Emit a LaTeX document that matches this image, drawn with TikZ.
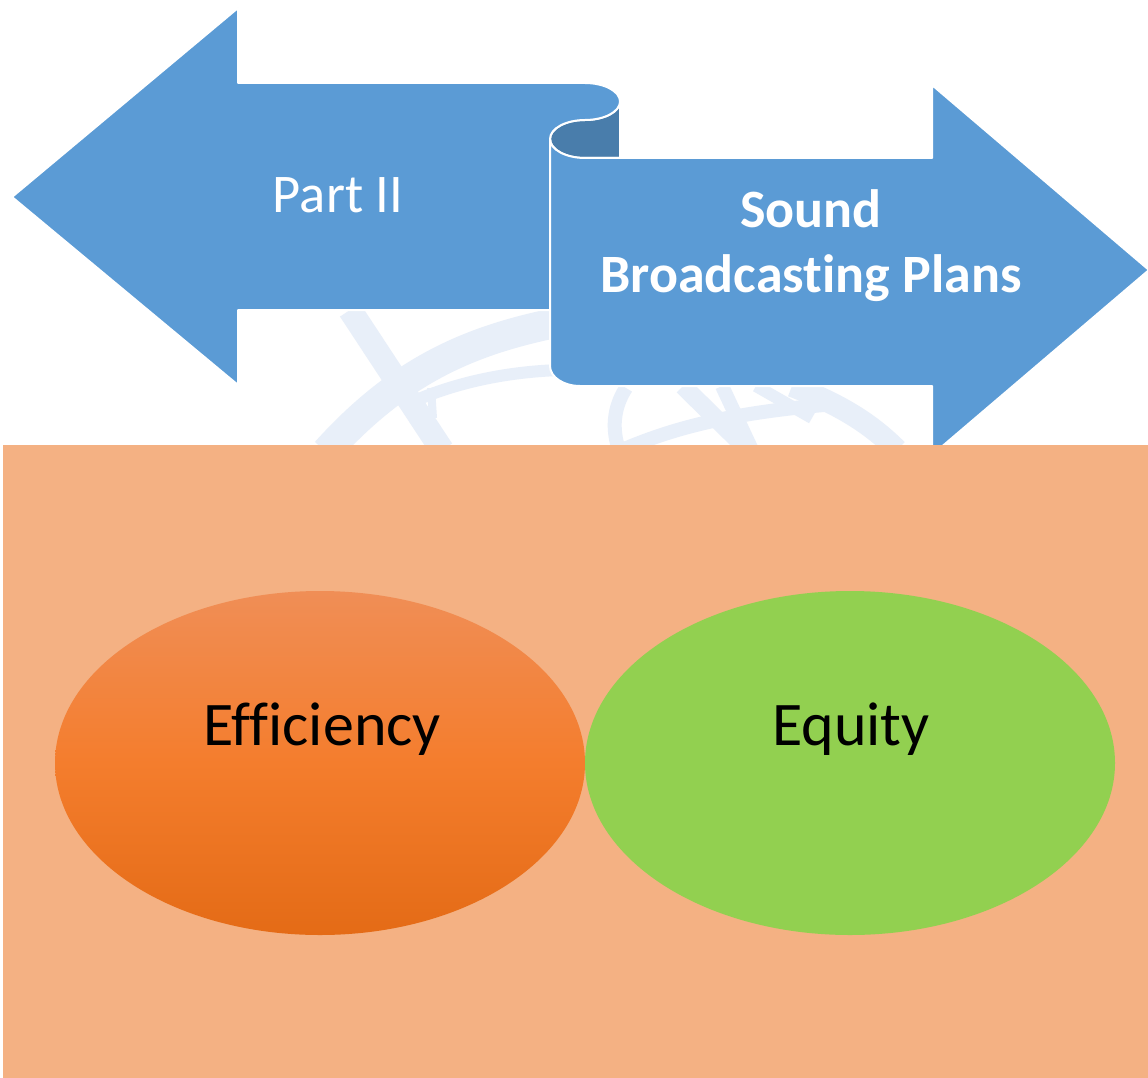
\documentclass[tikz,border=0pt]{standalone}
\usepackage{fontspec}
\setmainfont{Carlito}[Ligatures=NoCommon]
\usetikzlibrary{shapes.geometric}
\definecolor{arrowblue}{HTML}{5B9BD5}
\definecolor{curldark}{HTML}{497DAB}
\definecolor{panel}{HTML}{F4B183}
\definecolor{wmark}{HTML}{E8EFF9}
\definecolor{effTop}{HTML}{F08E56}
\definecolor{effMid}{HTML}{F47D2D}
\definecolor{effBot}{HTML}{E46B16}
\definecolor{equitygreen}{HTML}{92D050}
\begin{document}
\begin{tikzpicture}[x=1pt,y=-1pt,
  shapeblue/.style={fill=arrowblue, draw=white, line width=2pt, line join=round},
  wm/.style={draw=wmark, line cap=butt},
  whitelbl/.style={inner sep=0pt, text=white},
  blacklbl/.style={anchor=base, inner sep=0pt, text=black, font=\fontsize{62}{70}\selectfont},
  blob/.style={ellipse, inner sep=0pt, minimum width=530pt, minimum height=344pt}]
\useasboundingbox (0,0) rectangle (1148,1078);
\fill[white] (0,0) rectangle (1148,1078);
% faint watermark
\begin{scope}
\clip (0,300) rectangle (1148,445);
\draw[wm, line width=24pt] (350,310) -- (442,450);
\draw[wm, line width=30pt] (326,452) .. controls (400,370) and (470,340) .. (560,322);
\draw[wm, line width=12pt] (412,402) .. controls (450,385) and (500,372) .. (560,370);
\draw[wm, line width=8pt] (431,388) -- (433,418);
\draw[wm, line width=14pt] (626,388) .. controls (613,408) and (612,430) .. (619,450);
\draw[wm, line width=14pt] (622,450) .. controls (680,425) and (740,412) .. (835,404);
\draw[wm, line width=18pt] (683,386) -- (748,450);
\draw[wm, line width=14pt] (722,386) -- (752,450);
\draw[wm, line width=22pt] (792,386) .. controls (842,405) and (872,425) .. (897,450);
\draw[wm, line width=12pt] (756,386) -- (812,418);
\end{scope}
% curl back
\path[fill=curldark, draw=white, line width=2pt, line join=round]
  (620,101.5) -- (620,158) -- (585,158)
  arc[start angle=90, end angle=180, x radius=35, y radius=19]
  arc[start angle=180, end angle=270, x radius=35, y radius=19]
  arc[start angle=90, end angle=0, x radius=35, y radius=18.5] -- cycle;
% left arrow
\path[shapeblue]
  (12,197) -- (238,8) -- (238,83) -- (585,83)
  arc[start angle=-90, end angle=90, x radius=35, y radius=18.5]
  arc[start angle=-90, end angle=-180, x radius=35, y radius=19]
  -- (550,310) -- (238,310) -- (238,385) -- cycle;
% right arrow
\path[shapeblue]
  (550,139) arc[start angle=180, end angle=90, x radius=35, y radius=19]
  -- (932,158) -- (932,85) -- (1149,270) -- (932,455) -- (932,386) -- (580,386)
  arc[start angle=90, end angle=180, x radius=30, y radius=20] -- cycle;
\node[whitelbl, anchor=base, font=\fontsize{54.5}{65}\selectfont] (partii) at (338,213) {Part II};
\node[whitelbl, anchor=north, align=center, font=\bfseries\fontsize{54}{65}\selectfont] (sbp) at (811,189) {Sound\\Broadcasting Plans};
% lower panel
\fill[panel] (3,445) rectangle (1148,1078);
\node[blob, top color=effTop, bottom color=effBot, middle color=effMid] (effov) at (320,763) {};
\node[blob, fill=equitygreen] (eqov) at (850,763) {};
\node[blacklbl] (efftxt) at (322,745) {Efficiency};
\node[blacklbl] (eqtxt) at (851,745) {Equity};
\end{tikzpicture}
\end{document}
